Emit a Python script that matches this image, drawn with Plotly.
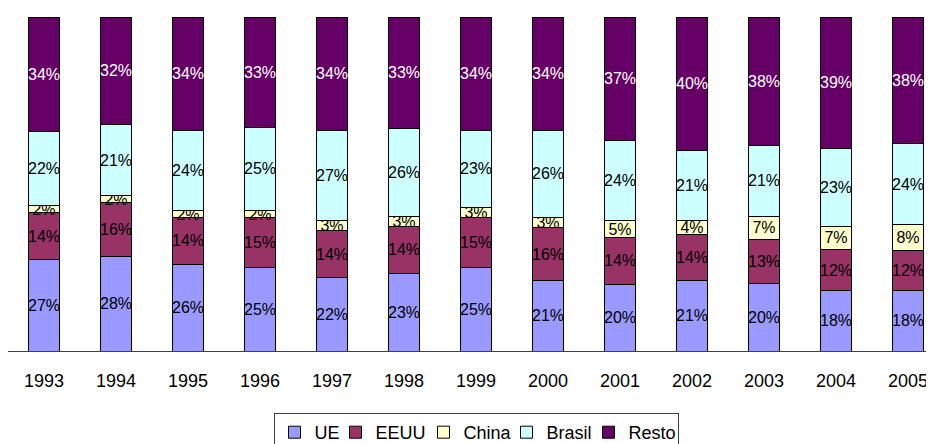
import plotly.graph_objects as go

# Share of each destination per year (percent labels)
years = ["1993", "1994", "1995", "1996", "1997", "1998", "1999",
         "2000", "2001", "2002", "2003", "2004", "2005"]
ue = [27, 28, 26, 25, 22, 23, 25, 21, 20, 21, 20, 18, 18]
eeuu = [14, 16, 14, 15, 14, 14, 15, 16, 14, 14, 13, 12, 12]
china = [2, 2, 2, 2, 3, 3, 3, 3, 5, 4, 7, 7, 8]
brasil = [22, 21, 24, 25, 27, 26, 23, 26, 24, 21, 21, 23, 24]
resto = [34, 32, 34, 33, 34, 33, 34, 34, 37, 40, 38, 39, 38]

series = [
    ("UE", ue, "#9999FF", "black"),
    ("EEUU", eeuu, "#993366", "black"),
    ("China", china, "#FFFFCC", "black"),
    ("Brasil", brasil, "#CCFFFF", "black"),
    ("Resto", resto, "#660066", "white"),
]

# legend entry widths (px) to get the tight Excel-like legend spacing
_LEGEND_W = {"UE": 16, "EEUU": 43, "China": 38, "Brasil": 37, "Resto": 44}

FONT = "Liberation Sans, Arial, sans-serif"

fig = go.Figure()
for name, vals, color, txt_color in series:
    fig.add_trace(go.Bar(
        x=years,
        y=vals,
        name=name,
        marker=dict(color=color, line=dict(color="black", width=1)),
        text=[f"{v}%" for v in vals],
        textposition="inside",
        insidetextanchor="middle",
        textangle=0,
        constraintext="none",
        textfont=dict(family=FONT, size=16, color=txt_color),
        width=0.42,
        legendwidth=_LEGEND_W[name],
    ))

# the page has an 8px body margin, so margins are shifted to compensate
fig.update_layout(
    barmode="stack",
    barnorm="percent",
    width=936,
    height=444,
    margin=dict(l=0, r=0, t=9, b=101),
    plot_bgcolor="white",
    paper_bgcolor="white",
    font=dict(family=FONT, size=18, color="black"),
    xaxis=dict(
        type="category",
        range=[-0.5, 12.5],
        showline=True,
        linecolor="#404040",
        linewidth=1,
        ticks="",
        ticklabelstandoff=13,
        showgrid=False,
        tickfont=dict(size=18),
    ),
    yaxis=dict(
        range=[0, 100],
        showgrid=False,
        zeroline=False,
        showticklabels=False,
        showline=False,
    ),
    legend=dict(
        orientation="h",
        traceorder="normal",
        x=0.5,
        xanchor="center",
        y=-0.186,
        yanchor="top",
        bordercolor="#404040",
        borderwidth=1,
        font=dict(size=18),
        itemwidth=30,
    ),
    showlegend=True,
)

fig.write_html("out.html")
